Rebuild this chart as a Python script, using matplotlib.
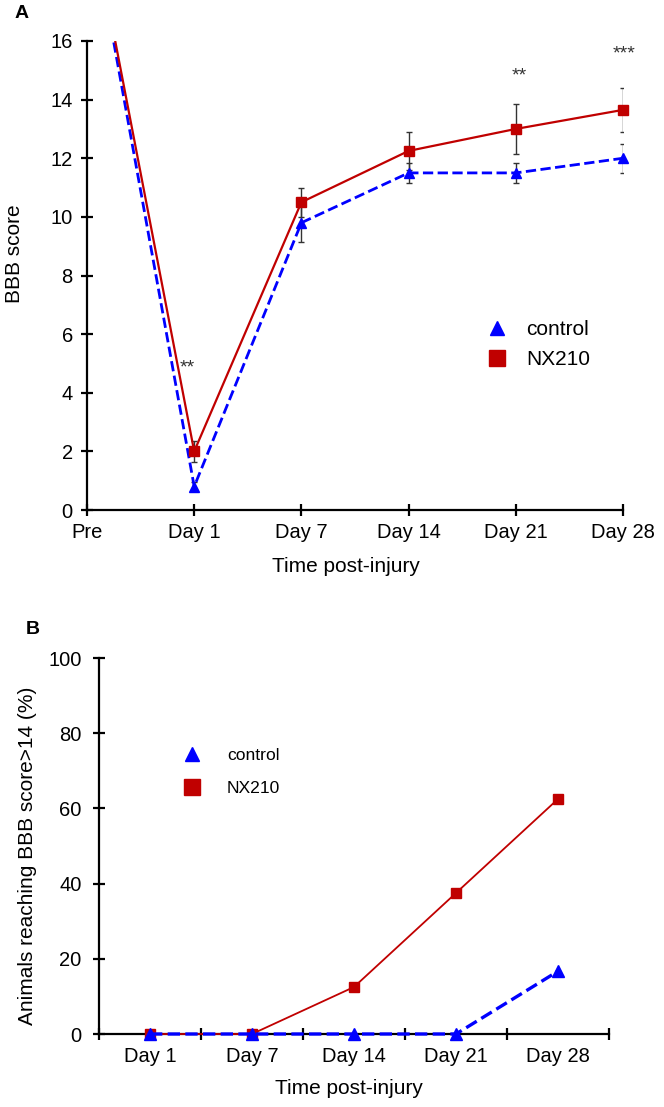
import matplotlib
matplotlib.use('Agg')
import matplotlib.pyplot as plt
from matplotlib.lines import Line2D
import numpy as np

plt.rcParams['font.family'] = ['Liberation Sans', 'DejaVu Sans']

# ---------------- Panel A data ----------------
days_a = ['Pre', 'Day 1', 'Day 7', 'Day 14', 'Day 21', 'Day 28']
control_a = [21, 0.8, 9.8, 11.5, 11.5, 12.0]
control_a_err = [0, 0.15, 0.65, 0.35, 0.35, 0.5]
nx210_a = [21, 2.0, 10.5, 12.25, 13.0, 13.65]
nx210_a_err = [0, 0.35, 0.5, 0.65, 0.85, 0.75]
yticks_a = [0, 2, 4, 6, 8, 10, 12, 14, 16]
sig_labels = ['**', '**', '***']
sig_x = [0.94, 4.03, 5.01]
sig_y = [4.85, 14.8, 15.55]

# ---------------- Panel B data ----------------
days_b = ['Day 1', 'Day 7', 'Day 14', 'Day 21', 'Day 28']
control_b = [0, 0, 0, 0, 16.7]
nx210_b = [0, 0, 12.5, 37.5, 62.5]
yticks_b = [0, 20, 40, 60, 80, 100]

RED = '#C00000'
BLUE = '#0000FF'
W, H = 664, 1107

fig = plt.figure(figsize=(W / 100, H / 100), dpi=100)

def style_axes(ax):
    for s in ['top', 'right']:
        ax.spines[s].set_visible(False)
    for s in ['left', 'bottom']:
        ax.spines[s].set_linewidth(1.6)
        ax.spines[s].set_color('black')

# ================= Panel A =================
axA = fig.add_axes([87 / W, 1 - 510 / H, (623 - 87) / W, (510 - 41) / H])
style_axes(axA)
xa = np.arange(len(days_a))

axA.plot(xa, control_a, color=BLUE, lw=2.0, ls='--', zorder=3)
axA.plot(xa, nx210_a, color=RED, lw=1.6, ls='-', zorder=3)
axA.errorbar(xa[1:], control_a[1:], yerr=control_a_err[1:], fmt='none',
             ecolor='#333333', elinewidth=1.0, capsize=2.5, capthick=1.0, zorder=2)
axA.errorbar(xa[1:], nx210_a[1:], yerr=nx210_a_err[1:], fmt='none',
             ecolor='#333333', elinewidth=1.0, capsize=2.5, capthick=1.0, zorder=2)
axA.plot(xa[1:], control_a[1:], ls='none', marker='^', ms=7.5, color=BLUE,
         clip_on=False, zorder=4)
axA.plot(xa[1:], nx210_a[1:], ls='none', marker='s', ms=7, color=RED,
         clip_on=False, zorder=5)

for lab, sx, sy in zip(sig_labels, sig_x, sig_y):
    axA.text(sx, sy, lab, ha='center', va='center', fontsize=14, color='#333333')

axA.set_xlim(0, 5)
axA.set_ylim(0, 16)
axA.set_xticks(xa)
axA.set_xticklabels(days_a)
axA.set_yticks(yticks_a)
axA.tick_params(axis='both', direction='inout', length=8.5, width=1.6,
                labelsize=14.5, color='black')
axA.tick_params(axis='y', pad=6)
axA.tick_params(axis='x', pad=5)

fig.text(15 / W, 1 - 254 / H, 'BBB score', rotation=90, ha='center',
         va='center', fontsize=15)
fig.text(346 / W, 1 - 567 / H, 'Time post-injury', ha='center', va='center',
         fontsize=15)
fig.text(22 / W, 1 - 14 / H, 'A', ha='center', va='center', fontsize=14,
         fontweight='bold')

hA = [Line2D([], [], ls='none', marker='^', ms=10, color=BLUE),
      Line2D([], [], ls='none', marker='s', ms=11, color=RED)]
fig.legend(hA, ['control', 'NX210'], loc='upper left',
           bbox_to_anchor=(487 / W, 1 - 320 / H), bbox_transform=fig.transFigure,
           frameon=False, fontsize=15, handlelength=1.0, handletextpad=0.9,
           labelspacing=0.55, borderpad=0, borderaxespad=0)

# ================= Panel B =================
axB = fig.add_axes([99 / W, 1 - 1034 / H, (609 - 99) / W, (1034 - 658) / H])
style_axes(axB)
xb = np.arange(len(days_b))

axB.plot(xb, nx210_b, color=RED, lw=1.3, ls='-', marker='s', ms=7,
         clip_on=False, zorder=4)
axB.plot(xb, control_b, color=BLUE, lw=2.4, ls='--', marker='^', ms=8,
         clip_on=False, zorder=5)

axB.set_xlim(-0.5, len(days_b) - 0.5)
axB.set_ylim(0, 100)
axB.set_xticks(np.arange(-0.5, len(days_b), 1.0))
axB.set_xticklabels([])
axB.set_xticks(xb, minor=True)
axB.set_xticklabels(days_b, minor=True)
axB.set_yticks(yticks_b)
axB.tick_params(axis='both', which='major', direction='inout', length=9,
                width=1.6, labelsize=14.5, color='black')
axB.tick_params(axis='x', which='minor', length=0, labelsize=14.5, pad=9)
axB.tick_params(axis='y', pad=8)

fig.text(28 / W, 1 - 856 / H, 'Animals reaching BBB score>14 (%)',
         rotation=90, ha='center', va='center', fontsize=15)
fig.text(349 / W, 1 - 1089 / H, 'Time post-injury', ha='center', va='center',
         fontsize=15)
fig.text(33 / W, 1 - 630 / H, 'B', ha='center', va='center', fontsize=14,
         fontweight='bold')

hB = [Line2D([], [], ls='none', marker='^', ms=10, color=BLUE),
      Line2D([], [], ls='none', marker='s', ms=11, color=RED)]
fig.legend(hB, ['control', 'NX210'], loc='upper left',
           bbox_to_anchor=(183 / W, 1 - 748 / H), bbox_transform=fig.transFigure,
           frameon=False, fontsize=12.6, handlelength=1.0, handletextpad=1.5,
           labelspacing=1.0, borderpad=0, borderaxespad=0)

fig.savefig('out.png', dpi=100)
